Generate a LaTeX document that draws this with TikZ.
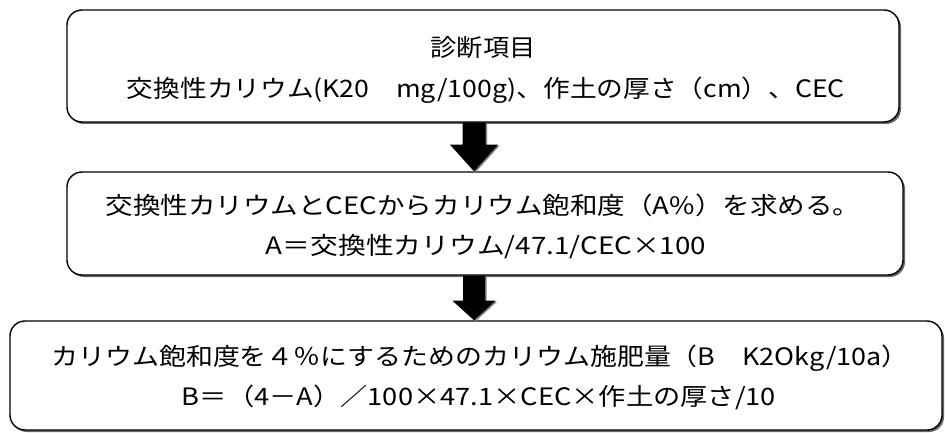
\documentclass[tikz,border=0pt]{standalone}
\usepackage{fontspec}
\usepackage{graphicx}
\newfontfamily\cjk{Noto Sans CJK JP}
\usetikzlibrary{shadows,calc}
\newcommand\fitw[2]{\resizebox{#1pt}{\height}{#2}}
\begin{document}
\begin{tikzpicture}[x=1pt,y=-1pt,
  box/.style={draw=black, line width=1.4pt, rounded corners=15pt, fill=white,
    drop shadow={shadow xshift=2pt, shadow yshift=-2pt, fill=black!60, opacity=1},
    inner sep=0pt},
  txt/.style={font=\cjk\fontsize{24}{28}\selectfont, inner sep=0pt, text=black},
  blockarrow/.style={fill=black, draw=none,
    drop shadow={shadow xshift=1.5pt, shadow yshift=-1pt, fill=black!50, opacity=1}}]
\useasboundingbox (0,0) rectangle (945,433);
\fill[white] (0,0) rectangle (945,433);

\node[box, minimum width=832pt, minimum height=112pt] (b1) at (483,66) {};
\node[box, minimum width=836pt, minimum height=103pt] (b2) at (485,223.5) {};
\node[box, minimum width=932pt, minimum height=109pt] (b3) at (476,375.5) {};

\node[txt] (t1a) at (483,48) {\fitw{105}{診断項目}};
\node[txt] (t1b) at (486,90) {\fitw{718}{交換性カリウム(K20　mg/100g)、作土の厚さ（cm）、CEC}};
\node[txt] (t2a) at (483,205) {\fitw{755}{交換性カリウムとCECからカリウム飽和度（A\%）を求める。}};
\node[txt] (t2b) at (486,247) {\fitw{440}{A＝交換性カリウム/47.1/CEC×100}};
\node[txt] (t3a) at (480,358) {\fitw{857}{カリウム飽和度を４％にするためのカリウム施肥量（B　K2Okg/10a）}};
\node[txt] (t3b) at (479,397) {\fitw{594}{B＝（4－A）／100×47.1×CEC×作土の厚さ/10}};

% arrow 1
\coordinate (a1s) at (b1.south -| 474,0);
\coordinate (a1e) at (b2.north -| 474,0);
\fill[blockarrow] ($(a1s)+(-11.5,0)$) -- ($(a1s)+(11.5,0)$) -- ($(a1s)+(11.5,22)$)
  -- ($(a1s)+(24,22)$) -- (a1e) -- ($(a1s)+(-24,22)$) -- ($(a1s)+(-11.5,22)$) -- cycle;
% arrow 2
\coordinate (a2s) at (b2.south -| 474,0);
\coordinate (a2e) at (b3.north -| 474,0);
\fill[blockarrow] ($(a2s)+(-11,0)$) -- ($(a2s)+(11,0)$) -- ($(a2s)+(11,25)$)
  -- ($(a2s)+(21.5,25)$) -- (a2e) -- ($(a2s)+(-21.5,25)$) -- ($(a2s)+(-11,25)$) -- cycle;
\end{tikzpicture}
\end{document}
